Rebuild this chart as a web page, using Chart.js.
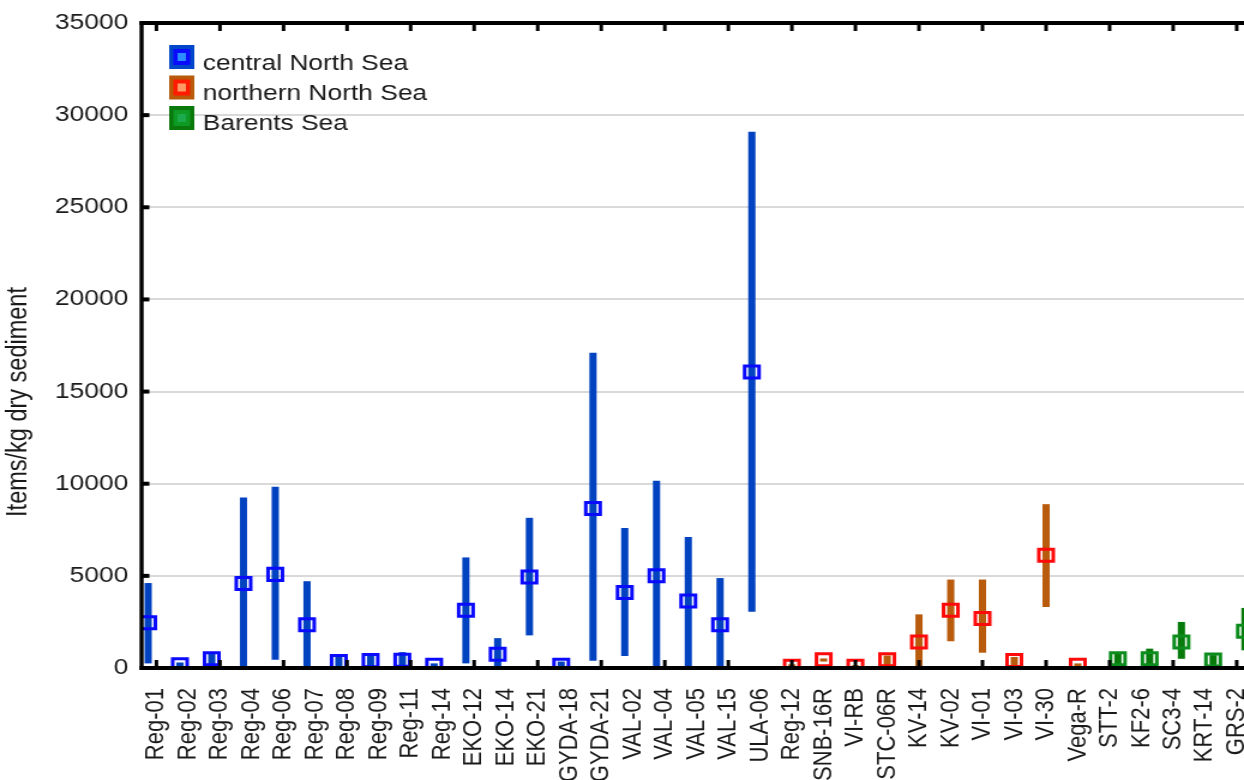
<!DOCTYPE html>
<html>
<head>
<meta charset="utf-8">
<title>Items/kg dry sediment</title>
<script src="https://cdn.jsdelivr.net/npm/chart.js@4.4.1/dist/chart.umd.min.js"></script>
<style>
    html, body { margin: 0; padding: 0; background: #fff; overflow: hidden; }
    /* the original picture is stretched sideways, so the canvas is too */
    #wrap { width: 1037px; height: 780px; transform: scaleX(1.1996); transform-origin: 0 0; }
</style>
</head>
<body>
<div id="wrap"><canvas id="chart" width="1037" height="780"></canvas></div>
<script>
// Sites along the x axis
const sites = ['Reg-01', 'Reg-02', 'Reg-03', 'Reg-04', 'Reg-06', 'Reg-07', 'Reg-08', 'Reg-09', 'Reg-11', 'Reg-14',
    'EKO-12', 'EKO-14', 'EKO-21', 'GYDA-18', 'GYDA-21', 'VAL-02', 'VAL-04', 'VAL-05', 'VAL-15', 'ULA-06',
    'Reg-12', 'SNB-16R', 'VI-RB', 'STC-06R', 'KV-14', 'KV-02', 'VI-01', 'VI-03', 'VI-30', 'Vega-R',
    'STT-2', 'KF2-6', 'SC3-4', 'KRT-14', 'GRS-2'];

const regions = ['central North Sea', 'northern North Sea', 'Barents Sea'];

// central North Sea (sites 0-19)
const centralMean = [2450, 180, 500, 4580, 5080, 2350, 350, 400, 420, 150, 3130, 740, 4940, 150, 8660, 4100, 5000, 3640, 2350, 16060];
const centralLow  = [250, 0, 150, 0, 450, 0, 0, 0, 0, 0, 250, 0, 1770, 0, 400, 650, 0, 0, 0, 3050];
const centralHigh = [4610, 300, 780, 9250, 9830, 4710, 600, 650, 860, 250, 6000, 1620, 8150, 350, 17100, 7600, 10160, 7110, 4880, 29100];

// northern North Sea (sites 20-29)
const northernMean = [90, 450, 90, 450, 1410, 3130, 2680, 410, 6120, 150];
const northernLow  = [0, 350, 0, 0, 0, 1450, 830, 0, 3310, 0];
const northernHigh = [200, 520, 150, 680, 2910, 4800, 4800, 600, 8890, 250];

// Barents Sea (sites 30-34)
const barentsMean = [500, 500, 1410, 430, 1990];
const barentsLow  = [0, 0, 500, 0, 960];
const barentsHigh = [850, 1050, 2500, 700, 3260];

const yTicks = [0, 5000, 10000, 15000, 20000, 25000, 30000, 35000];

const FONT = "'Liberation Sans', Arial, sans-serif";
const TEXT = '#1a1a1a';

const groups = [
    { start: 0, shift: -0.26, mean: centralMean, low: centralLow, high: centralHigh,
      marker: '#0a0aff', bar: '#0042c0', icon: ['#0046c8', '#0a0aff', '#2a8cff'] },
    { start: 20, shift: 0, mean: northernMean, low: northernLow, high: northernHigh,
      marker: '#ff0a0a', bar: '#b95b0c', icon: ['#b85a0a', '#ff1a00', '#ff9a66'] },
    { start: 30, shift: 0.26, mean: barentsMean, low: barentsLow, high: barentsHigh,
      marker: '#0c8c1c', bar: '#067a0a', icon: ['#0a780a', '#0e9a24', '#1cab4c'] }
];

const datasets = [];
groups.forEach((g, k) => {
    datasets.push({
        type: 'scatter',
        label: regions[k],
        data: g.mean.map((v, i) => ({ x: g.start + i + g.shift, y: v })),
        pointStyle: 'rect',
        pointRadius: 8.5,
        pointHoverRadius: 8.5,
        pointBorderWidth: 3,
        borderColor: g.marker,
        backgroundColor: 'rgba(0,0,0,0)',
        clip: 0,
        order: 0
    });
});
groups.forEach((g, k) => {
    datasets.push({
        type: 'bar',
        label: regions[k] + ' range',
        data: g.low.map((v, i) => ({ x: g.start + i + g.shift, y: [v, g.high[i]] })),
        backgroundColor: g.bar,
        borderWidth: 0,
        grouped: false,
        maxBarThickness: 6,
        clip: 0,
        order: 1
    });
});

// Frame, inward ticks, legend and axis title
const framePlugin = {
    id: 'frame',
    afterDatasetsDraw(chart) {
        const { ctx, chartArea: a, scales: { x, y } } = chart;
        ctx.save();
        ctx.fillStyle = '#000';
        ctx.fillRect(a.left - 1.7, a.top - 2, 3.4, a.bottom - a.top + 4);
        ctx.fillRect(a.left - 1.7, a.bottom - 2, a.right - a.left + 4, 4);
        ctx.fillRect(a.left - 1.7, a.top - 2, a.right - a.left + 4, 4);
        for (let i = 0; i < sites.length; i += 2) {
            const px = x.getPixelForValue(i);
            ctx.fillRect(px - 1.5, a.bottom - 8, 3, 6);
            ctx.fillRect(px - 1.5, a.top + 2, 3, 6);
        }
        yTicks.slice(1, -1).forEach(v => {
            const py = y.getPixelForValue(v);
            ctx.fillRect(a.left, py - 2, 6.5, 4);
        });

        // legend
        ctx.font = '22px ' + FONT;
        ctx.textAlign = 'left';
        ctx.textBaseline = 'alphabetic';
        groups.forEach((g, k) => {
            const top = 45 + k * 30.5;
            const left = 141;
            ctx.fillStyle = g.icon[0];
            ctx.fillRect(left, top, 21, 24);
            ctx.fillStyle = g.icon[1];
            ctx.fillRect(left + 3.5, top + 4, 14, 16);
            ctx.fillStyle = g.icon[2];
            ctx.fillRect(left + 7, top + 8, 7, 8);
            ctx.fillStyle = TEXT;
            ctx.fillText(regions[k], 169, 69.5 + k * 30);
        });

        // y axis title
        ctx.translate(16, 402);
        ctx.rotate(-Math.PI / 2);
        ctx.font = '23.5px ' + FONT;
        ctx.textAlign = 'center';
        ctx.textBaseline = 'middle';
        ctx.fillStyle = TEXT;
        ctx.fillText('Items/kg dry sediment', 0, 0);
        ctx.restore();
    }
};

new Chart(document.getElementById('chart'), {
    type: 'scatter',
    data: { datasets: datasets },
    options: {
        responsive: false,
        animation: false,
        layout: { autoPadding: false, padding: { top: 23, right: 0, bottom: 0, left: 0 } },
        plugins: {
            legend: { display: false },
            tooltip: { enabled: false }
        },
        scales: {
            x: {
                type: 'linear',
                min: -0.468,
                max: 34.23,
                offset: false,
                grid: { display: false, offset: false },
                border: { display: false },
                afterBuildTicks: function(scale) {
                    scale.ticks = sites.map((s, i) => ({ value: i }));
                },
                afterFit: function(scale) {
                    scale.height = 112;
                    scale.paddingLeft = 0;
                    scale.paddingRight = 0;
                },
                ticks: {
                    autoSkip: false,
                    minRotation: 90,
                    maxRotation: 90,
                    padding: 12,
                    color: TEXT,
                    font: { family: FONT, size: 22 },
                    callback: function(value) {
                        return sites[value] !== undefined ? sites[value] : '';
                    }
                }
            },
            y: {
                type: 'linear',
                min: 0,
                max: 35000,
                grid: { color: '#d9d9d9', lineWidth: 2, drawTicks: false },
                border: { display: false },
                afterFit: function(scale) {
                    scale.width = 118;
                    scale.paddingTop = 0;
                    scale.paddingBottom = 0;
                },
                ticks: {
                    stepSize: 5000,
                    padding: 11,
                    color: TEXT,
                    font: { family: FONT, size: 22 },
                    callback: function(value) { return String(value); }
                }
            }
        }
    },
    plugins: [framePlugin]
});
</script>
</body>
</html>
